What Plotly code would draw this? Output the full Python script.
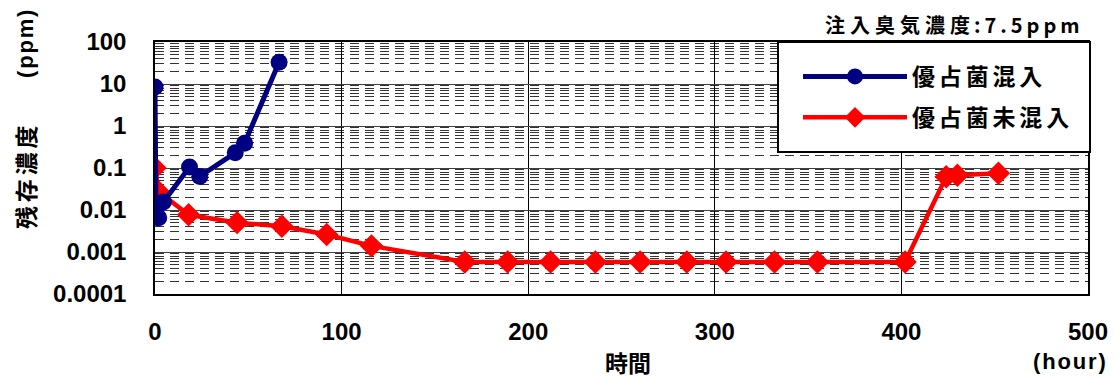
import plotly.graph_objects as go

# ---- data ----
blue_name = "優占菌混入"
red_name = "優占菌未混入"

blue_hours = [0, 0.5, 2, 4.5, 18.5, 24, 43, 48, 66.5]
blue_ppm = [8.5, 0.011, 0.0065, 0.0155, 0.105, 0.063, 0.23, 0.39, 33]

red_hours = [0, 2, 18, 44, 68, 92, 116, 166, 189, 212, 236, 260, 285, 306, 332, 355, 402, 424, 430, 452]
red_ppm = [0.1, 0.027, 0.0077, 0.005, 0.0041, 0.0026, 0.0014, 0.00058, 0.00058, 0.00058, 0.00058,
           0.00058, 0.00058, 0.00058, 0.00058, 0.00058, 0.00058, 0.062, 0.067, 0.075]

y_tickvals = [100, 10, 1, 0.1, 0.01, 0.001, 0.0001]
y_ticktext = ["100", "10", "1", "0.1", "0.01", "0.001", "0.0001"]
x_tickvals = [0, 100, 200, 300, 400, 500]

title_kanji = "注入臭気濃度"
title_value = ":7.5ppm"
y_title = "残存濃度"
y_unit = "(ppm)"
x_title = "時間"
x_unit = "(hour)"

FONT = "Liberation Sans, Noto Sans CJK JP, sans-serif"
CJK = "Noto Sans CJK JP, Liberation Sans, sans-serif"


def spaced(s, sp):
    return sp.join(list(s))


fig = go.Figure()
fig.add_trace(go.Scatter(
    x=red_hours, y=red_ppm, mode="lines+markers", name=spaced(red_name, "\u2006"),
    line=dict(color="#FF0000", width=4.5),
    marker=dict(symbol="diamond", size=18, color="#FF0000"),
    legendgroup="b", legendrank=2,
))
fig.add_trace(go.Scatter(
    x=blue_hours, y=blue_ppm, mode="lines+markers", name=spaced(blue_name, "\u2006"),
    line=dict(color="#000080", width=5),
    marker=dict(symbol="circle", size=17, color="#000080"),
    legendgroup="a", legendrank=1,
))

W, H = 1115, 378
L, R, T, B = 155, 27, 42, 84
PW, PH = W - L - R, H - T - B


def px(xp):
    return (xp - L) / PW


def py(yp):
    return (H - B - yp) / PH


title_text = spaced(title_kanji, "\u2005") + "\u2009" + spaced(title_value, "\u2009")

fig.update_layout(
    width=W, height=H,
    margin=dict(l=L, r=R, t=T, b=B, autoexpand=False),
    paper_bgcolor="white", plot_bgcolor="white",
    font=dict(family=FONT, color="black"),
    showlegend=True,
    legend=dict(
        x=px(798), y=py(55), xanchor="left", yanchor="top",
        bgcolor="rgba(0,0,0,0)", borderwidth=0,
        font=dict(family=CJK, size=23, weight="bold", color="black"),
        traceorder="grouped", tracegroupgap=8,
        itemwidth=104,
    ),
    shapes=[dict(
        type="rect", xref="paper", yref="paper",
        x0=px(778), x1=px(1090), y0=py(152), y1=py(42),
        line=dict(color="black", width=2), fillcolor="white", layer="above",
    )],
    annotations=[
        dict(text=title_text, xref="paper", yref="paper",
             x=px(1082), y=py(24), xanchor="right", yanchor="middle", showarrow=False,
             font=dict(family=CJK, size=20, weight="bold", color="black")),
        dict(text=spaced(y_title, "\u2006"), xref="paper", yref="paper",
             x=px(25), y=py(177), xanchor="center", yanchor="middle", showarrow=False,
             textangle=-90, font=dict(family=CJK, size=23, weight="bold", color="black")),
        dict(text=spaced(y_unit, "\u200a"), xref="paper", yref="paper",
             x=px(26), y=py(44), xanchor="center", yanchor="middle", showarrow=False,
             textangle=-90, font=dict(family=FONT, size=22, weight="bold", color="black")),
        dict(text=x_title, xref="paper", yref="paper",
             x=px(628), y=py(362), xanchor="center", yanchor="middle", showarrow=False,
             font=dict(family=CJK, size=23, weight="bold", color="black")),
        dict(text=spaced(x_unit, "\u200a"), xref="paper", yref="paper",
             x=px(1108), y=py(361), xanchor="right", yanchor="middle", showarrow=False,
             font=dict(family=FONT, size=22, weight="bold", color="black")),
    ],
)

fig.update_xaxes(
    range=[0, 500], tickvals=x_tickvals, ticktext=[str(v) for v in x_tickvals],
    showgrid=True, gridcolor="black", gridwidth=1,
    showline=True, linecolor="black", linewidth=1.5, mirror=True,
    ticks="", ticklabelstandoff=15, zeroline=False, automargin=False,
    tickfont=dict(family=FONT, size=24, weight="bold", color="black"),
)
fig.update_yaxes(
    type="log", range=[-4, 2], tickvals=y_tickvals, ticktext=y_ticktext,
    showgrid=True, gridcolor="#404040", gridwidth=1.2,
    minor=dict(dtick="D1", showgrid=True, gridcolor="#333333", gridwidth=1, griddash="9px,6px", ticks=""),
    showline=True, linecolor="black", linewidth=1.5, mirror=True,
    ticks="", ticklabelstandoff=22, zeroline=False, automargin=False,
    tickfont=dict(family=FONT, size=24, weight="bold", color="black"),
)

fig.write_html(
    "out.html",
    config={"displayModeBar": False},
    post_script="document.body.style.margin='0';document.body.style.overflow='hidden';",
)
